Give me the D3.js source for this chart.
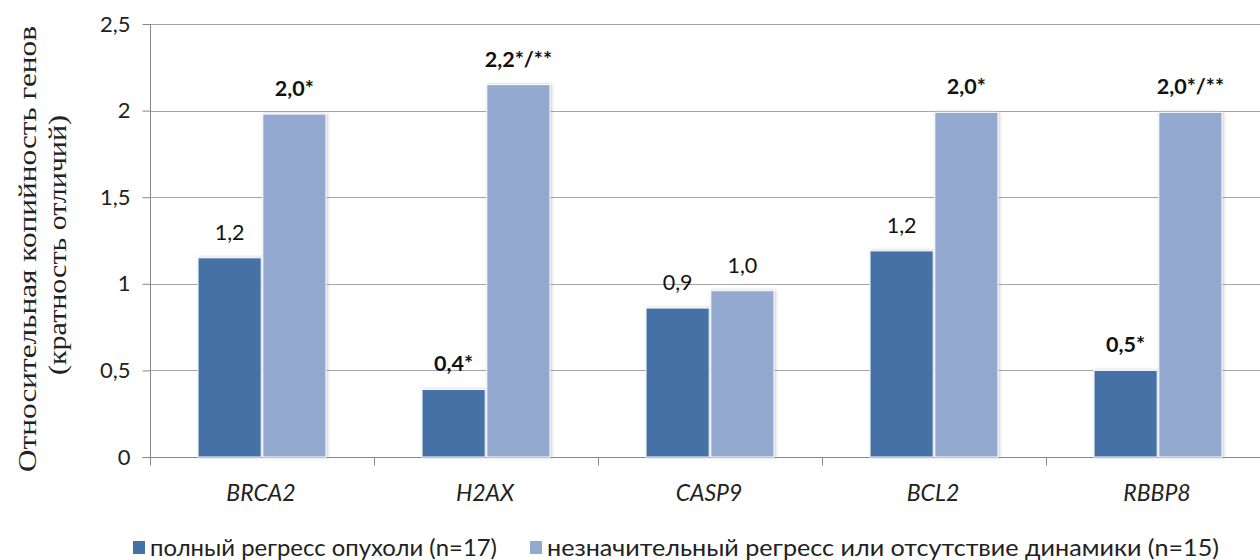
<!DOCTYPE html>
<html>
<head>
<meta charset="utf-8">
<script src="https://cdn.jsdelivr.net/npm/d3@7"></script>
<style>
  body { margin: 0; background: #fff; }
  svg { display: block; }
  .tick-lbl { font-family: Lato, "Open Sans", sans-serif; font-size: 22px; fill: #222; }
</style>
</head>
<body>
<svg id="chart" width="1260" height="560"></svg>
<script>
// Data
const genes = ["BRCA2", "H2AX", "CASP9", "BCL2", "RBBP8"];
const seriesNames = ["полный регресс опухоли (n=17)", "незначительный регресс или отсутствие динамики (n=15)"];
const fullRegress = [1.15, 0.39, 0.86, 1.19, 0.50];
const partialRegress = [1.98, 2.15, 0.96, 1.99, 1.99];
const fullLabels = ["1,2", "0,4*", "0,9", "1,2", "0,5*"];
const partialLabels = ["2,0*", "2,2*/**", "1,0", "2,0*", "2,0*/**"];
const fullBold = [false, true, false, false, true];
const partialBold = [true, true, false, true, true];
const yTicks = [0, 0.5, 1, 1.5, 2, 2.5];
const colors = ["#4571a7", "#93a9d0"];

const svg = d3.select("#chart");

// Scales
const x = d3.scaleBand().domain(genes).range([150, 1270]);
const xInner = d3.scaleBand().domain([0, 1]).range([48, 176]).paddingInner(0.025);
const y = d3.scaleLinear().domain([0, 2.5]).range([457, 24]);

// Shadow filter
const defs = svg.append("defs");
const f = defs.append("filter").attr("id", "shadow").attr("x", "-20%").attr("y", "-5%").attr("width", "140%").attr("height", "110%");
f.append("feDropShadow").attr("dx", 1).attr("dy", 0).attr("stdDeviation", 1.4)
  .attr("flood-color", "#777").attr("flood-opacity", 0.45);

// Grid
svg.append("g").selectAll("line").data(yTicks.slice(1)).join("line")
  .attr("x1", 150).attr("x2", 1260)
  .attr("y1", d => Math.round(y(d)) + 0.5).attr("y2", d => Math.round(y(d)) + 0.5)
  .attr("stroke", "#a6a6a6").attr("stroke-width", 1.2);

// Y axis
const yAxis = svg.append("g")
  .attr("transform", "translate(150.5,0)")
  .call(d3.axisLeft(y).tickValues(yTicks).tickSize(8).tickPadding(12)
    .tickFormat(d => String(d).replace(".", ",")));
yAxis.select(".domain").attr("stroke", "#888").attr("d", "M0," + y(2.5) + "V" + (y(0) + 8));
yAxis.selectAll(".tick line").attr("stroke", "#888");
yAxis.selectAll("text").attr("class", "tick-lbl").attr("font-family", null).attr("font-size", null).attr("fill", null);

// X axis
const xAxis = svg.append("g")
  .attr("transform", "translate(0," + (y(0) + 0.5) + ")");
xAxis.append("line").attr("x1", 150).attr("x2", 1260).attr("stroke", "#888").attr("stroke-width", 1.2);
xAxis.selectAll(".xt").data(genes).join("line")
  .attr("x1", d => x(d) + 0.5).attr("x2", d => x(d) + 0.5)
  .attr("y1", 0).attr("y2", 8).attr("stroke", "#888");
xAxis.selectAll(".xl").data(genes).join("text")
  .attr("x", d => x(d) + x.bandwidth() / 2 - 1).attr("y", 43)
  .attr("text-anchor", "middle")
  .attr("font-family", "Lato, 'Open Sans', sans-serif")
  .attr("font-style", "italic").attr("font-size", 23).attr("fill", "#222")
  .text(d => d);

// Bars
const rows = genes.map((g, i) => [
  {gene: g, s: 0, v: fullRegress[i], lbl: fullLabels[i], bold: fullBold[i]},
  {gene: g, s: 1, v: partialRegress[i], lbl: partialLabels[i], bold: partialBold[i]}
]).flat();

svg.append("g").selectAll("rect").data(rows).join("rect")
  .attr("x", d => x(d.gene) + xInner(d.s))
  .attr("y", d => y(d.v))
  .attr("width", xInner.bandwidth())
  .attr("height", d => y(0) - y(d.v))
  .attr("fill", d => colors[d.s])
  .attr("stroke", "#fff").attr("stroke-width", 1)
  .attr("filter", "url(#shadow)");

// Value labels
svg.append("g").selectAll("text").data(rows).join("text")
  .attr("x", d => x(d.gene) + xInner(d.s) + xInner.bandwidth() / 2)
  .attr("y", d => y(d.v) - 18)
  .attr("text-anchor", "middle")
  .attr("font-family", "Lato, 'Open Sans', sans-serif")
  .attr("font-size", 21.5)
  .attr("font-weight", d => d.bold ? "bold" : "normal")
  .attr("fill", "#111")
  .text(d => d.lbl);

// Y title
const yt = svg.append("g")
  .attr("font-family", "'Liberation Serif', 'Times New Roman', serif")
  .attr("font-size", 25).attr("fill", "#222")
  .attr("text-anchor", "middle");
yt.append("text").attr("transform", "translate(36,249) rotate(-90)")
  .attr("textLength", 446).attr("lengthAdjust", "spacingAndGlyphs")
  .text("Относительная копийность генов");
yt.append("text").attr("transform", "translate(66,245) rotate(-90)")
  .attr("textLength", 260).attr("lengthAdjust", "spacingAndGlyphs")
  .text("(кратность отличий)");

// Legend
const legendX = [133, 530];
const legendW = [347, 672];
const lg = svg.append("g").selectAll("g").data(seriesNames).join("g")
  .attr("transform", (d, i) => "translate(" + legendX[i] + ",0)");
lg.append("rect").attr("x", 0).attr("y", 541).attr("width", 12).attr("height", 13)
  .attr("fill", (d, i) => colors[i]);
lg.append("text").attr("x", 17).attr("y", 556)
  .attr("font-family", "Lato, 'Open Sans', sans-serif")
  .attr("font-size", 24).attr("fill", "#222")
  .attr("textLength", (d, i) => legendW[i])
  .attr("lengthAdjust", "spacingAndGlyphs")
  .text(d => d);
</script>
</body>
</html>
